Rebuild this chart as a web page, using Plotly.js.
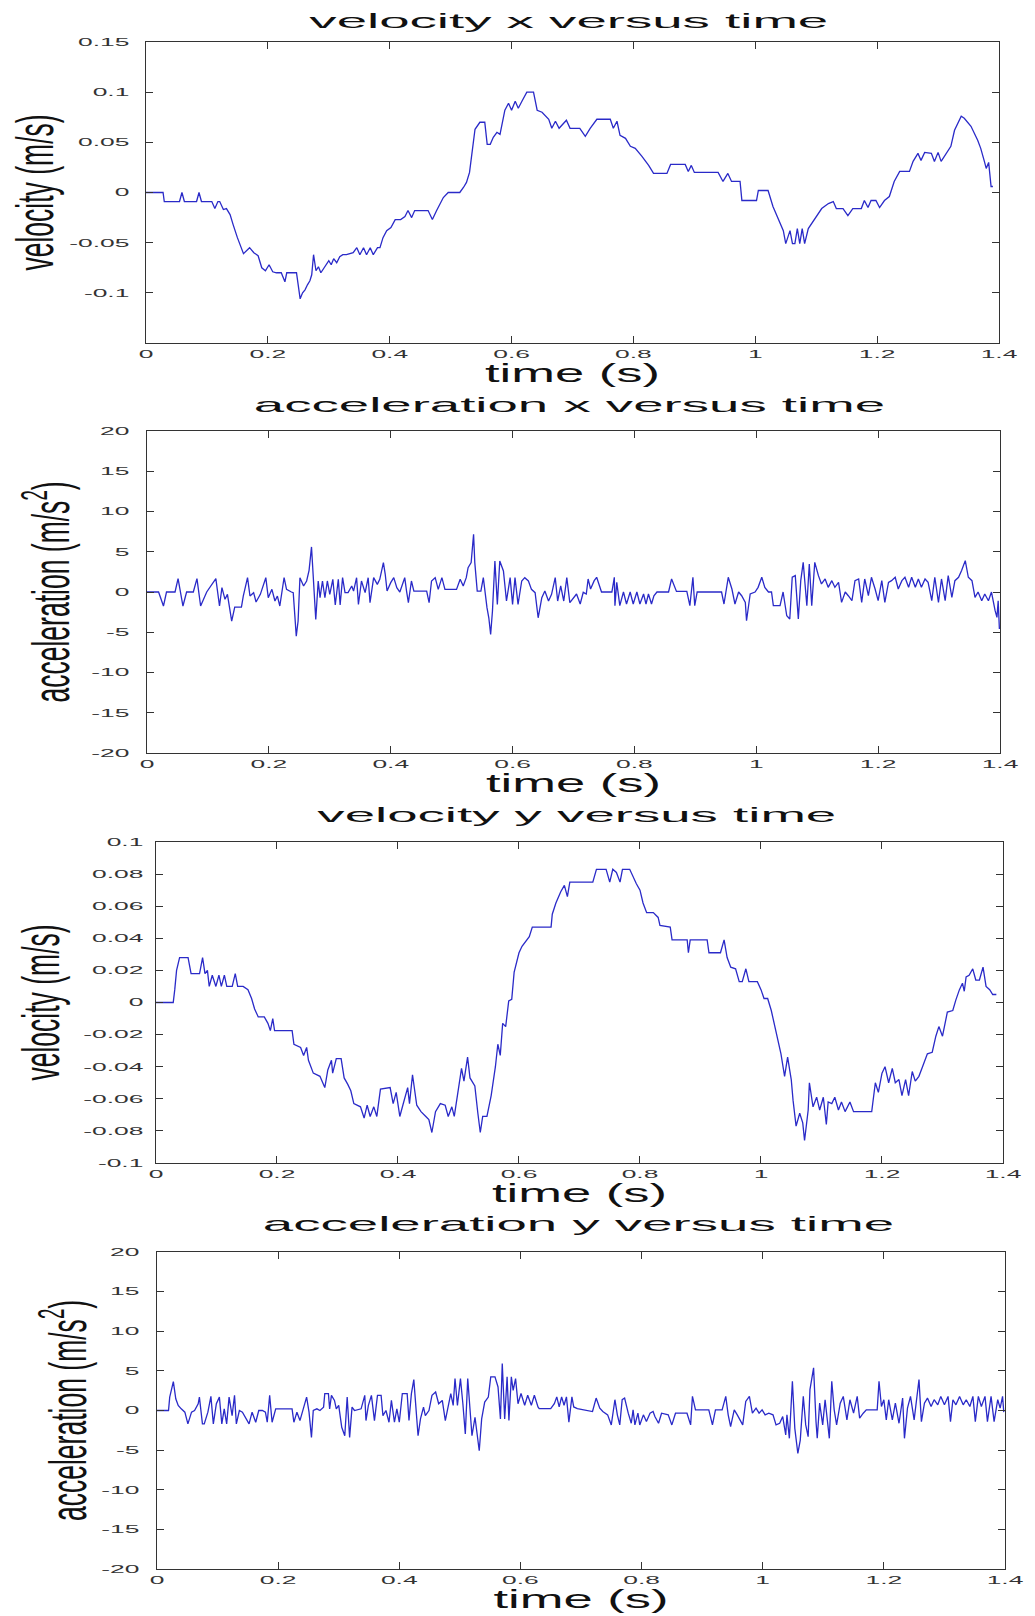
<!DOCTYPE html>
<html>
<head>
<meta charset="utf-8">
<script src="https://cdn.plot.ly/plotly-3.0.1.min.js"></script>
<style>
  html, body { margin: 0; padding: 0; background: #ffffff; }
  #chart { width: 1035px; height: 1616px; }
</style>
</head>
<body>
<div id="chart"></div>
<script>
// ---------- DATA (time s, value) ----------
const velocityX = [[0,0],[0.028,0],[0.030,-0.009],[0.055,-0.009],[0.059,0],[0.063,-0.009],[0.083,-0.009],[0.087,0],[0.091,-0.009],[0.108,-0.009],
[0.113,-0.016],[0.118,-0.009],[0.121,-0.009],[0.127,-0.017],[0.132,-0.016],[0.138,-0.022],[0.143,-0.032],[0.150,-0.045],[0.160,-0.061],[0.165,-0.058],
[0.170,-0.055],[0.177,-0.060],[0.184,-0.063],[0.190,-0.075],[0.196,-0.078],[0.202,-0.072],[0.208,-0.079],[0.214,-0.080],[0.222,-0.080],[0.228,-0.089],
[0.231,-0.080],[0.247,-0.080],[0.250,-0.095],[0.253,-0.106],[0.257,-0.100],[0.261,-0.097],[0.265,-0.092],[0.269,-0.088],[0.272,-0.082],[0.275,-0.062],
[0.279,-0.078],[0.283,-0.074],[0.287,-0.080],[0.291,-0.076],[0.296,-0.072],[0.300,-0.068],[0.304,-0.072],[0.308,-0.066],[0.313,-0.070],[0.318,-0.064],
[0.323,-0.062],[0.329,-0.062],[0.340,-0.060],[0.346,-0.055],[0.351,-0.062],[0.357,-0.055],[0.362,-0.062],[0.368,-0.055],[0.373,-0.062],[0.380,-0.055],
[0.384,-0.055],[0.389,-0.045],[0.395,-0.038],[0.402,-0.035],[0.409,-0.027],[0.418,-0.027],[0.425,-0.024],[0.430,-0.018],[0.436,-0.025],[0.441,-0.018],
[0.463,-0.018],[0.470,-0.027],[0.477,-0.018],[0.483,-0.010],[0.488,-0.005],[0.496,0],[0.515,0],[0.521,0.005],[0.526,0.010],[0.531,0.020],
[0.535,0.040],[0.540,0.063],[0.548,0.070],[0.556,0.070],[0.560,0.048],[0.565,0.048],[0.570,0.055],[0.576,0.060],[0.581,0.058],[0.589,0.082],
[0.595,0.089],[0.600,0.082],[0.606,0.091],[0.611,0.084],[0.617,0.091],[0.625,0.100],[0.636,0.100],[0.642,0.082],[0.650,0.080],[0.661,0.073],
[0.666,0.064],[0.672,0.071],[0.678,0.064],[0.690,0.072],[0.696,0.064],[0.712,0.064],[0.721,0.056],[0.729,0.064],[0.740,0.073],[0.762,0.073],
[0.767,0.064],[0.773,0.071],[0.778,0.057],[0.787,0.054],[0.795,0.046],[0.803,0.044],[0.814,0.036],[0.825,0.027],[0.833,0.019],[0.855,0.019],
[0.861,0.028],[0.885,0.028],[0.890,0.021],[0.895,0.027],[0.900,0.020],[0.939,0.020],[0.947,0.011],[0.955,0.019],[0.961,0.011],[0.975,0.011],
[0.978,-0.008],[1.002,-0.008],[1.005,0.002],[1.021,0.002],[1.029,-0.014],[1.038,-0.026],[1.046,-0.038],[1.050,-0.051],[1.057,-0.038],[1.061,-0.051],
[1.065,-0.051],[1.069,-0.036],[1.073,-0.051],[1.077,-0.036],[1.081,-0.051],[1.087,-0.036],[1.098,-0.026],[1.109,-0.016],[1.120,-0.011],[1.128,-0.009],
[1.133,-0.016],[1.144,-0.016],[1.152,-0.023],[1.160,-0.016],[1.174,-0.016],[1.179,-0.008],[1.185,-0.015],[1.190,-0.008],[1.198,-0.008],[1.204,-0.015],
[1.212,-0.008],[1.220,-0.004],[1.228,0.011],[1.237,0.021],[1.253,0.021],[1.259,0.031],[1.267,0.039],[1.272,0.032],[1.278,0.040],[1.289,0.039],
[1.294,0.031],[1.300,0.040],[1.305,0.031],[1.313,0.039],[1.321,0.046],[1.327,0.062],[1.338,0.076],[1.343,0.074],[1.354,0.066],[1.365,0.052],
[1.370,0.044],[1.376,0.031],[1.379,0.024],[1.383,0.030],[1.387,0.006],[1.390,0.006]];

const accelerationX = [[0,0],[0.019,0],[0.027,-1.74],[0.032,0],[0.046,0],[0.051,1.66],[0.059,-1.74],[0.065,0],[0.076,0],[0.082,1.66],
[0.088,-1.74],[0.098,0],[0.113,1.66],[0.119,-1.74],[0.123,0.54],[0.128,-0.91],[0.132,-0.29],[0.139,-3.61],[0.144,-1.87],[0.155,-1.87],
[0.158,-0.5],[0.165,1.78],[0.169,-0.5],[0.175,-0.08],[0.179,-1.24],[0.186,-0.29],[0.195,1.78],[0.199,-0.7],[0.205,0.33],[0.210,-1.12],
[0.214,-0.5],[0.218,-1.74],[0.225,1.78],[0.229,0.33],[0.237,0],[0.240,-0.08],[0.245,-5.48],[0.248,-3.61],[0.251,1.78],[0.257,0.75],
[0.262,1.37],[0.266,2.70],[0.270,5.60],[0.273,1.78],[0.277,-3.40],[0.281,1.37],[0.284,-0.70],[0.288,1.37],[0.292,-0.70],[0.296,1.37],
[0.300,-0.29],[0.305,1.58],[0.309,-1.62],[0.314,1.58],[0.317,-1.62],[0.321,1.78],[0.325,-0.08],[0.330,-0.08],[0.336,0.75],[0.339,0.12],
[0.344,1.78],[0.347,-1.54],[0.352,1.37],[0.358,-0.08],[0.363,1.78],[0.366,-1.33],[0.372,1.78],[0.378,0.95],[0.382,1.58],[0.388,3.65],
[0.391,2.20],[0.394,0.12],[0.400,1.16],[0.405,1.78],[0.410,0.54],[0.415,0],[0.423,1.78],[0.426,0.12],[0.429,-1.33],[0.434,1.37],
[0.438,0.12],[0.459,0.12],[0.463,-1.33],[0.467,1.37],[0.473,1.78],[0.478,0.33],[0.484,1.78],[0.489,0.33],[0.508,0.33],[0.514,1.58],
[0.519,0.75],[0.524,1.78],[0.527,3.03],[0.532,3.65],[0.536,7.18],[0.538,3.65],[0.542,0.12],[0.548,0.12],[0.552,1.78],[0.558,-1.95],
[0.561,-3.20],[0.564,-5.27],[0.567,-2.37],[0.571,3.86],[0.575,-1.54],[0.579,3.86],[0.585,2.61],[0.590,-1.12],[0.596,1.78],[0.600,-1.54],
[0.604,1.78],[0.609,-1.54],[0.615,1.37],[0.620,1.78],[0.626,1.37],[0.631,0.33],[0.637,-0.08],[0.642,-3.20],[0.648,-0.70],[0.653,0.12],
[0.659,-1.12],[0.664,-0.29],[0.670,1.78],[0.674,-1.12],[0.679,0.75],[0.684,-1.12],[0.689,1.78],[0.694,-1.33],[0.705,-0.25],[0.711,-1.49],
[0.716,-0.04],[0.721,-0.25],[0.724,1.62],[0.728,0.37],[0.734,1.41],[0.738,1.83],[0.744,0.37],[0.746,0],[0.763,0],[0.767,1.83],
[0.768,-1.70],[0.771,1.20],[0.776,-1.70],[0.782,0],[0.787,-1.49],[0.793,0],[0.798,-1.49],[0.804,0],[0.809,-1.49],[0.815,-0.25],
[0.819,-1.49],[0.823,-0.25],[0.828,-1.49],[0.832,-0.46],[0.837,0],[0.856,0],[0.861,1.62],[0.867,0.37],[0.869,0.08],[0.886,0.08],
[0.891,-1.70],[0.896,1.83],[0.899,-1.70],[0.903,0],[0.943,0],[0.947,-1.49],[0.954,1.83],[0.960,0.37],[0.965,-1.49],[0.971,0],
[0.976,-0.46],[0.982,-1.29],[0.984,-3.57],[0.990,-0.25],[0.998,0],[1.003,0.58],[1.009,1.83],[1.014,0.58],[1.020,0],[1.025,0],
[1.028,-1.70],[1.039,-1.70],[1.044,0],[1.050,-2.95],[1.055,-3.36],[1.059,1.83],[1.064,2.03],[1.069,-3.36],[1.073,1.41],[1.077,3.69],
[1.083,-1.70],[1.087,3.49],[1.091,-1.70],[1.096,3.69],[1.102,2.03],[1.107,1.00],[1.113,1.62],[1.118,0.58],[1.124,1.41],[1.129,0.58],
[1.135,1.20],[1.140,-1.29],[1.146,0],[1.151,-0.46],[1.157,-1.08],[1.162,1.41],[1.168,1.62],[1.173,-1.29],[1.178,1.62],[1.184,-0.46],
[1.189,1.83],[1.195,0.37],[1.200,-1.08],[1.206,1.41],[1.211,-1.29],[1.217,1.20],[1.222,1.41],[1.228,1.83],[1.233,0.37],[1.239,1.41],
[1.244,1.83],[1.250,0.58],[1.255,1.83],[1.261,0.58],[1.266,1.62],[1.271,0.58],[1.277,1.62],[1.282,1.20],[1.288,-1.08],[1.293,1.83],
[1.299,-1.29],[1.304,1.62],[1.310,-1.08],[1.315,2.03],[1.321,-0.66],[1.326,1.41],[1.332,1.83],[1.337,2.66],[1.343,3.90],[1.348,1.83],
[1.354,1.41],[1.359,-0.66],[1.364,0],[1.370,-1.08],[1.375,-0.25],[1.381,-1.08],[1.386,0],[1.392,-2.32],[1.395,-3.15],[1.397,-1.08],
[1.399,-4.6]];

const velocityY = [[0,0],[0.0285,0],[0.031,0.008],[0.034,0.020],[0.039,0.028],[0.053,0.028],[0.058,0.018],[0.072,0.018],[0.077,0.028],[0.081,0.018],
[0.085,0.020],[0.088,0.010],[0.093,0.017],[0.099,0.010],[0.104,0.017],[0.108,0.010],[0.113,0.017],[0.117,0.010],[0.126,0.010],[0.131,0.018],
[0.135,0.010],[0.144,0.010],[0.152,0.008],[0.158,0.0025],[0.163,-0.004],[0.169,-0.009],[0.179,-0.009],[0.185,-0.013],[0.189,-0.0175],[0.193,-0.010],
[0.196,-0.0175],[0.225,-0.0175],[0.228,-0.026],[0.239,-0.028],[0.244,-0.033],[0.249,-0.028],[0.252,-0.036],[0.260,-0.044],[0.271,-0.046],[0.279,-0.053],
[0.284,-0.042],[0.290,-0.036],[0.292,-0.044],[0.298,-0.035],[0.306,-0.035],[0.311,-0.047],[0.317,-0.051],[0.322,-0.055],[0.327,-0.063],[0.338,-0.065],
[0.344,-0.072],[0.349,-0.064],[0.354,-0.071],[0.360,-0.065],[0.365,-0.071],[0.371,-0.054],[0.387,-0.053],[0.392,-0.063],[0.397,-0.056],[0.403,-0.071],
[0.408,-0.064],[0.416,-0.053],[0.419,-0.063],[0.424,-0.045],[0.431,-0.064],[0.438,-0.068],[0.446,-0.071],[0.451,-0.073],[0.456,-0.081],[0.462,-0.068],
[0.470,-0.063],[0.478,-0.064],[0.483,-0.071],[0.489,-0.065],[0.493,-0.071],[0.500,-0.053],[0.505,-0.041],[0.509,-0.049],[0.515,-0.034],[0.519,-0.047],
[0.527,-0.052],[0.532,-0.069],[0.536,-0.081],[0.540,-0.071],[0.547,-0.071],[0.554,-0.058],[0.561,-0.040],[0.565,-0.026],[0.569,-0.033],[0.573,-0.013],
[0.578,-0.015],[0.583,0.001],[0.588,0.002],[0.592,0.019],[0.595,0.024],[0.600,0.031],[0.605,0.035],[0.611,0.038],[0.617,0.041],[0.622,0.047],
[0.653,0.047],[0.655,0.055],[0.661,0.062],[0.669,0.069],[0.675,0.073],[0.680,0.066],[0.684,0.075],[0.722,0.075],[0.728,0.083],[0.744,0.083],
[0.750,0.075],[0.755,0.083],[0.761,0.081],[0.767,0.075],[0.771,0.083],[0.783,0.083],[0.789,0.078],[0.794,0.074],[0.800,0.070],[0.805,0.062],
[0.811,0.056],[0.822,0.056],[0.830,0.053],[0.833,0.048],[0.850,0.047],[0.853,0.039],[0.878,0.039],[0.880,0.031],[0.883,0.039],[0.911,0.039],
[0.914,0.031],[0.933,0.031],[0.939,0.039],[0.944,0.028],[0.950,0.022],[0.958,0.021],[0.964,0.013],[0.969,0.013],[0.975,0.021],[0.980,0.013],
[0.994,0.013],[1.000,0.008],[1.005,0.0025],[1.011,0.0025],[1.017,-0.005],[1.022,-0.013],[1.028,-0.022],[1.033,-0.032],[1.039,-0.046],[1.044,-0.034],
[1.050,-0.048],[1.053,-0.061],[1.058,-0.077],[1.064,-0.069],[1.069,-0.075],[1.072,-0.086],[1.078,-0.067],[1.080,-0.050],[1.086,-0.065],[1.092,-0.059],
[1.097,-0.067],[1.103,-0.059],[1.108,-0.076],[1.111,-0.062],[1.117,-0.063],[1.122,-0.059],[1.128,-0.067],[1.133,-0.062],[1.139,-0.068],[1.147,-0.062],
[1.153,-0.068],[1.183,-0.068],[1.189,-0.050],[1.194,-0.056],[1.200,-0.044],[1.205,-0.040],[1.211,-0.050],[1.217,-0.041],[1.222,-0.050],[1.228,-0.048],
[1.233,-0.058],[1.239,-0.048],[1.244,-0.058],[1.250,-0.043],[1.255,-0.049],[1.261,-0.046],[1.267,-0.040],[1.275,-0.032],[1.283,-0.031],[1.289,-0.021],
[1.294,-0.015],[1.300,-0.021],[1.308,-0.006],[1.317,-0.005],[1.322,0.0015],[1.328,0.008],[1.333,0.012],[1.336,0.007],[1.339,0.016],[1.344,0.017],
[1.350,0.021],[1.355,0.014],[1.361,0.014],[1.367,0.022],[1.372,0.010],[1.378,0.008],[1.383,0.005],[1.389,0.005]];

const accelerationY = [[0,0],[0.019,0],[0.021,1.69],[0.027,3.64],[0.031,1.48],[0.035,0.64],[0.040,0.21],[0.046,-0.21],[0.051,-1.69],[0.057,-0.21],
[0.062,0],[0.068,0.85],[0.070,1.69],[0.075,-1.69],[0.078,-1.69],[0.084,-0.21],[0.089,1.78],[0.093,-1.69],[0.098,0.85],[0.103,1.69],
[0.107,-1.69],[0.111,0.21],[0.115,-1.69],[0.119,1.69],[0.124,-0.64],[0.128,1.91],[0.131,-1.69],[0.136,0],[0.141,-0.21],[0.147,-1.06],
[0.152,-1.69],[0.157,-0.21],[0.163,-1.48],[0.168,0],[0.174,0],[0.179,-0.21],[0.182,-1.48],[0.186,1.91],[0.190,-1.48],[0.196,0.21],
[0.223,0.21],[0.226,-1.48],[0.231,-0.21],[0.236,-1.27],[0.242,0.21],[0.247,1.69],[0.251,-0.21],[0.255,-3.39],[0.258,0],[0.264,0.21],
[0.269,0],[0.275,0.42],[0.277,2.12],[0.283,2.12],[0.285,0.21],[0.288,1.91],[0.293,1.27],[0.296,0.21],[0.300,0.64],[0.305,-2.12],
[0.310,-3.18],[0.314,1.69],[0.318,-3.39],[0.322,0.42],[0.326,0],[0.337,0.21],[0.343,1.91],[0.345,-1.27],[0.349,0.64],[0.354,1.91],
[0.359,-1.27],[0.364,1.91],[0.370,1.91],[0.373,-0.64],[0.378,0],[0.383,-1.48],[0.387,1.27],[0.392,-1.48],[0.396,0.21],[0.400,-1.48],
[0.405,2.12],[0.413,2.12],[0.416,-1.27],[0.420,2.12],[0.424,3.90],[0.428,0.42],[0.431,-3.18],[0.435,-1.06],[0.440,0.42],[0.443,-0.64],
[0.449,0],[0.454,1.91],[0.460,2.33],[0.465,0.85],[0.471,1.27],[0.476,-1.27],[0.482,1.27],[0.485,2.12],[0.489,0.64],[0.492,4.03],
[0.496,0.64],[0.501,4.03],[0.505,0.85],[0.509,-2.97],[0.513,4.03],[0.517,-0.85],[0.520,-3.18],[0.525,-0.85],[0.529,-3.39],[0.532,-5.08],
[0.536,-1.06],[0.541,1.06],[0.547,1.69],[0.551,4.24],[0.558,4.24],[0.563,2.97],[0.567,-1.06],[0.570,5.93],[0.574,-1.06],[0.578,4.24],
[0.581,-1.27],[0.585,4.24],[0.588,2.54],[0.592,4.03],[0.596,0.85],[0.601,2.14],[0.607,0.66],[0.612,1.93],[0.618,0.66],[0.623,1.93],
[0.629,0.45],[0.631,0.24],[0.650,0.24],[0.656,0.87],[0.660,1.72],[0.664,0.45],[0.668,1.72],[0.672,0.66],[0.676,1.72],[0.680,-1.46],
[0.685,1.72],[0.688,0.45],[0.694,0.24],[0.719,-0.13],[0.725,1.57],[0.731,0.30],[0.736,-0.13],[0.744,-0.55],[0.750,-1.82],[0.756,1.36],
[0.760,-0.55],[0.764,-1.82],[0.768,1.36],[0.772,1.57],[0.778,-0.34],[0.783,-1.61],[0.786,0.08],[0.789,-1.82],[0.794,-0.34],[0.797,-1.82],
[0.803,-0.55],[0.808,-1.40],[0.814,-0.34],[0.819,-0.13],[0.822,-0.76],[0.828,-1.61],[0.833,-0.34],[0.844,-0.55],[0.850,-1.82],[0.856,-0.34],
[0.875,-0.34],[0.881,-1.82],[0.884,1.78],[0.889,0.08],[0.911,0.08],[0.917,-1.82],[0.922,0.08],[0.933,0.08],[0.939,1.78],[0.943,-0.55],
[0.947,-2.03],[0.953,0.08],[0.958,-0.55],[0.967,-1.82],[0.972,1.14],[0.978,1.78],[0.983,-0.34],[0.989,0.30],[0.994,-0.34],[0.999,0.08],
[1.004,-0.55],[1.010,-0.34],[1.017,-0.55],[1.022,-1.82],[1.028,-1.61],[1.033,-0.76],[1.038,-3.08],[1.040,-0.55],[1.044,-3.51],[1.049,3.69],
[1.053,-2.25],[1.056,-4.15],[1.058,-5.42],[1.062,-3.73],[1.067,1.78],[1.071,-1.82],[1.075,-3.31],[1.078,2.63],[1.081,4.32],[1.084,5.38],
[1.088,-1.40],[1.090,-3.51],[1.094,0.93],[1.099,-1.82],[1.103,1.36],[1.107,-1.61],[1.110,-3.51],[1.114,3.69],[1.118,0.08],[1.122,-1.82],
[1.128,0.93],[1.133,1.78],[1.139,-1.19],[1.144,1.36],[1.150,-0.34],[1.156,1.78],[1.160,-0.97],[1.166,-0.34],[1.171,0.08],[1.189,0.08],
[1.192,3.69],[1.196,0.51],[1.200,1.36],[1.204,-1.19],[1.208,1.36],[1.214,-1.19],[1.219,0.93],[1.225,-1.61],[1.231,1.57],[1.234,-3.51],
[1.239,0.30],[1.244,1.78],[1.250,-1.19],[1.254,1.36],[1.258,3.90],[1.262,-1.40],[1.267,0.93],[1.272,1.57],[1.278,0.51],[1.283,1.36],
[1.289,0.72],[1.294,1.78],[1.300,0.72],[1.306,1.78],[1.310,-1.40],[1.314,1.36],[1.319,0.72],[1.325,1.78],[1.331,0.72],[1.336,1.36],
[1.342,0.51],[1.347,1.78],[1.351,-1.40],[1.356,1.78],[1.361,0.51],[1.367,1.78],[1.371,-1.40],[1.377,1.78],[1.382,-1.40],[1.388,1.36],
[1.392,0.30],[1.396,1.78],[1.398,-0.2]];

// tick labels
const timeTickVals = [0, 0.2, 0.4, 0.6, 0.8, 1, 1.2, 1.4];
const timeTickText = ['0', '0.2', '0.4', '0.6', '0.8', '1', '1.2', '1.4'];
const velXTickVals = [-0.1, -0.05, 0, 0.05, 0.1, 0.15];
const velXTickText = ['-0.1', '-0.05', '0', '0.05', '0.1', '0.15'];
const velYTickVals = [-0.1, -0.08, -0.06, -0.04, -0.02, 0, 0.02, 0.04, 0.06, 0.08, 0.1];
const velYTickText = ['-0.1', '-0.08', '-0.06', '-0.04', '-0.02', '0', '0.02', '0.04', '0.06', '0.08', '0.1'];
const accTickVals = [-20, -15, -10, -5, 0, 5, 10, 15, 20];
const accTickText = ['-20', '-15', '-10', '-5', '0', '5', '10', '15', '20'];

const panelTitles = ['velocity x versus time', 'acceleration x versus time', 'velocity y versus time', 'acceleration y versus time'];
const timeLabel = 'time (s)';
const velocityLabel = 'velocity (m/s)';
const accelerationLabel = 'acceleration (m/s<sup>2</sup>)';

// ---------- CHART ----------
const LINE = {color: '#2a2ac8', width: 1.3};
function trace(series, xa, ya) {
  return {
    type: 'scatter', mode: 'lines',
    x: series.map(p => p[0]), y: series.map(p => p[1]),
    xaxis: xa, yaxis: ya, line: LINE, hoverinfo: 'skip'
  };
}
const traces = [
  trace(velocityX, 'x', 'y'),
  trace(accelerationX, 'x2', 'y2'),
  trace(velocityY, 'x3', 'y3'),
  trace(accelerationY, 'x4', 'y4')
];

const axisBase = {
  showline: true, linecolor: '#333333', linewidth: 1.4, mirror: 'allticks',
  ticks: 'inside', ticklen: 7, tickwidth: 1, tickcolor: '#333333',
  showgrid: false, zeroline: false, automargin: false, fixedrange: true,
  tickfont: {family: 'Liberation Sans, Arial, sans-serif', size: 11, color: '#333333'}
};
function xAxis(domain, anchor) {
  return Object.assign({}, axisBase, {
    domain: domain, anchor: anchor, range: [0, 1.4],
    tickmode: 'array', tickvals: timeTickVals, ticktext: timeTickText,
    ticklabelstandoff: 0,
    title: {text: timeLabel, standoff: 6, font: {family: 'Liberation Sans, Arial, sans-serif', size: 25, color: '#111111'}}
  });
}
function yAxis(domain, anchor, range, vals, text, label, labStand, titleStand) {
  return Object.assign({}, axisBase, {
    domain: domain, anchor: anchor, range: range,
    tickmode: 'array', tickvals: vals, ticktext: text,
    ticklabelstandoff: labStand,
    title: {text: label, standoff: titleStand, font: {family: 'Liberation Sans, Arial, sans-serif', size: 52, color: '#111111'}}
  });
}
function panelTitle(text, x, y) {
  return {text: text, x: x, y: y, xref: 'paper', yref: 'paper', showarrow: false,
    xanchor: 'center', yanchor: 'middle',
    font: {family: 'Liberation Sans, Arial, sans-serif', size: 21, color: '#111111'}};
}

const layout = {
  width: 1035, height: 1616,
  margin: {l: 0, r: 0, t: 0, b: 0},
  paper_bgcolor: '#ffffff', plot_bgcolor: '#ffffff',
  showlegend: false,
  xaxis:  xAxis([0.14106, 0.96522], 'y'),
  xaxis2: xAxis([0.14203, 0.96618], 'y2'),
  xaxis3: xAxis([0.15072, 0.96908], 'y3'),
  xaxis4: xAxis([0.15169, 0.97101], 'y4'),
  yaxis:  yAxis([0.78775, 0.97401], 'x',  [-0.15, 0.15], velXTickVals, velXTickText, velocityLabel, 13, 34),
  yaxis2: yAxis([0.53403, 0.73329], 'x2', [-20, 20], accTickVals, accTickText, accelerationLabel, 14, 27),
  yaxis3: yAxis([0.28032, 0.47896], 'x3', [-0.1, 0.1], velYTickVals, velYTickText, velocityLabel, 9, 42),
  yaxis4: yAxis([0.02908, 0.22525], 'x4', [-20, 20], accTickVals, accTickText, accelerationLabel, 14, 20),
  annotations: [
    panelTitle(panelTitles[0], 0.5498, 0.9876),
    panelTitle(panelTitles[1], 0.5507, 0.7494),
    panelTitle(panelTitles[2], 0.5575, 0.4957),
    panelTitle(panelTitles[3], 0.5585, 0.2426)
  ]
};

// The reference's lettering is horizontally stretched; widen glyphs with SVG textLength.
function stretchText(selector, factor) {
  document.querySelectorAll(selector).forEach(function (el) {
    var w = el.getComputedTextLength();
    if (w > 0) {
      el.setAttribute('textLength', (w * factor).toFixed(1));
      el.setAttribute('lengthAdjust', 'spacingAndGlyphs');
    }
  });
}

Plotly.newPlot('chart', traces, layout, {staticPlot: true, displayModeBar: false}).then(function () {
  stretchText('.annotation-text', 2.6);
  stretchText('.xtick text, .x2tick text, .x3tick text, .x4tick text, .ytick text, .y2tick text, .y3tick text, .y4tick text', 2.4);
  stretchText('.xtitle, .x2title, .x3title, .x4title', 2.1);
  stretchText('.ytitle, .y2title, .y3title, .y4title', 0.51);
});
</script>
</body>
</html>
